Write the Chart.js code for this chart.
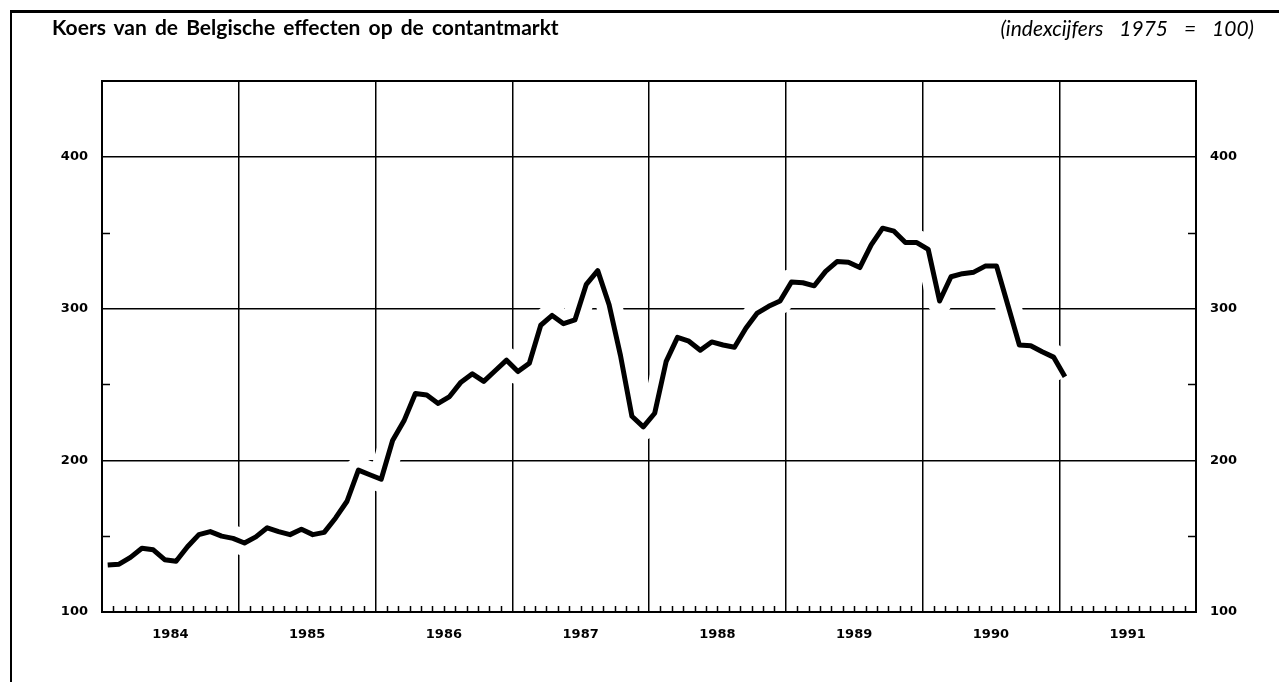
<!DOCTYPE html>
<html><head><meta charset="utf-8">
<script src="https://cdn.jsdelivr.net/npm/chart.js@4"></script>
<style>
html,body{margin:0;padding:0;background:#fff;width:1279px;height:682px;overflow:hidden;}
#frame{position:absolute;left:10px;top:10px;width:1275px;height:680px;border-top:3px solid #000;border-left:2px solid #000;box-sizing:border-box;}
#title{position:absolute;left:52px;top:17px;font-family:Lato,"Open Sans",sans-serif;font-weight:bold;font-size:21px;line-height:20px;word-spacing:3px;color:#000;white-space:nowrap;}
#sub{position:absolute;right:25px;top:18px;font-family:Lato,"Open Sans",sans-serif;font-style:italic;font-size:21px;line-height:20px;word-spacing:11px;color:#000;white-space:nowrap;}
canvas{position:absolute;left:0;top:0;}
</style></head>
<body>
<div id="frame"></div>
<canvas id="c" width="1279" height="682"></canvas>
<div id="title">Koers van de Belgische effecten op de contantmarkt</div>
<div id="sub">(indexcijfers 1975 = 100)</div>
<script>
// Year labels on the x axis
const yearLabels = ['1984','1985','1986','1987','1988','1989','1990','1991'];
// Monthly index values (1975 = 100), Jan of each year to Dec
const values1984 = [131, 131.5, 136, 142, 141, 134.5, 133.5, 143, 151, 153, 150, 148.5];
const values1985 = [145.5, 149.5, 155.5, 153, 151, 154.5, 151, 152.5, 162, 173, 193.5, 190.5];
const values1986 = [187.5, 213, 226, 244, 243, 237.5, 242, 251.5, 257, 252, 259, 266];
const values1987 = [258.5, 264, 289, 295.5, 290, 292.5, 316, 325, 302.5, 269, 229, 222];
const values1988 = [231, 265, 281, 278.5, 272.5, 278, 276, 274.5, 287, 297, 301.5, 305];
const values1989 = [317.5, 317, 315, 324.5, 331, 330.5, 327, 342, 353, 351, 343.5, 343.5];
const values1990 = [339, 305, 321, 323, 324, 328, 328, 302, 276, 275.5, 271.5, 268];
const values1991 = [255];
// Y axis labelled ticks and minor ticks
const yTicks = [100, 200, 300, 400];
const yMinorTicks = [150, 250, 350];

const allValues = [].concat(values1984, values1985, values1986, values1987, values1988, values1989, values1990, values1991);
const points = allValues.map((v, i) => ({x: i + 0.5, y: v}));
const nMonths = yearLabels.length * 12;

const labelFont = {family: '"DejaVu Sans", sans-serif', size: 13, weight: 'bold'};

const framePlugin = {
  id: 'framePlugin',
  afterDraw(chart) {
    const {ctx, chartArea: a, scales} = chart;
    const xs = scales.x, ys = scales.y;
    ctx.save();
    ctx.strokeStyle = '#000';
    ctx.lineWidth = 2;
    ctx.strokeRect(a.left, a.top, a.right - a.left, a.bottom - a.top);
    ctx.lineWidth = 1.5;
    ctx.beginPath();
    for (let m = 1; m < nMonths; m++) {
      if (m % 12 === 0) continue;
      const x = Math.round(xs.getPixelForValue(m)) + 0.5;
      ctx.moveTo(x, a.bottom);
      ctx.lineTo(x, a.bottom - 6);
    }
    yMinorTicks.forEach(v => {
      const y = Math.round(ys.getPixelForValue(v)) + 0.5;
      ctx.moveTo(a.left, y); ctx.lineTo(a.left + 8, y);
      ctx.moveTo(a.right, y); ctx.lineTo(a.right - 8, y);
    });
    ctx.stroke();
    ctx.restore();
  }
};

new Chart(document.getElementById('c'), {
  type: 'line',
  data: {
    datasets: [
      {data: points, borderColor: '#000', borderWidth: 5, pointRadius: 0, tension: 0,
       borderJoinStyle: 'round', borderCapStyle: 'butt', order: 1, clip: false},
      {data: points, borderColor: '#fff', borderWidth: 26, pointRadius: 0, tension: 0,
       borderJoinStyle: 'round', order: 2}
    ]
  },
  options: {
    responsive: false,
    devicePixelRatio: 1,
    animation: false,
    events: [],
    layout: {padding: {left: 0, right: 0, top: 81, bottom: 30}},
    plugins: {legend: {display: false}, tooltip: {enabled: false}, title: {display: false}},
    scales: {
      x: {
        type: 'linear', min: 0, max: nMonths,
        afterBuildTicks: s => { s.ticks = []; for (let v = 6; v < nMonths; v += 6) s.ticks.push({value: v}); },
        afterFit: s => { s.height = 40; },
        grid: {
          drawTicks: false,
          color: c => (c.tick && c.tick.value % 12 === 0) ? '#000' : 'rgba(0,0,0,0)',
          lineWidth: 1.5
        },
        border: {display: false},
        ticks: {
          autoSkip: false, maxRotation: 0, padding: 15, color: '#000', font: labelFont,
          callback: v => (v % 12 === 6) ? yearLabels[(v - 6) / 12] : ''
        }
      },
      y: {
        type: 'linear', min: 100, max: 450, position: 'left',
        afterBuildTicks: s => { s.ticks = yTicks.map(v => ({value: v})); },
        afterFit: s => { s.width = 102; },
        grid: {drawTicks: false, color: '#000', lineWidth: 1.5},
        border: {display: false},
        ticks: {padding: 14, color: '#000', font: labelFont}
      },
      y2: {
        type: 'linear', min: 100, max: 450, position: 'right',
        afterBuildTicks: s => { s.ticks = yTicks.map(v => ({value: v})); },
        afterFit: s => { s.width = 83; },
        grid: {drawTicks: false, drawOnChartArea: false},
        border: {display: false},
        ticks: {padding: 14, color: '#000', font: labelFont}
      }
    }
  },
  plugins: [framePlugin]
});
</script>
</body></html>
